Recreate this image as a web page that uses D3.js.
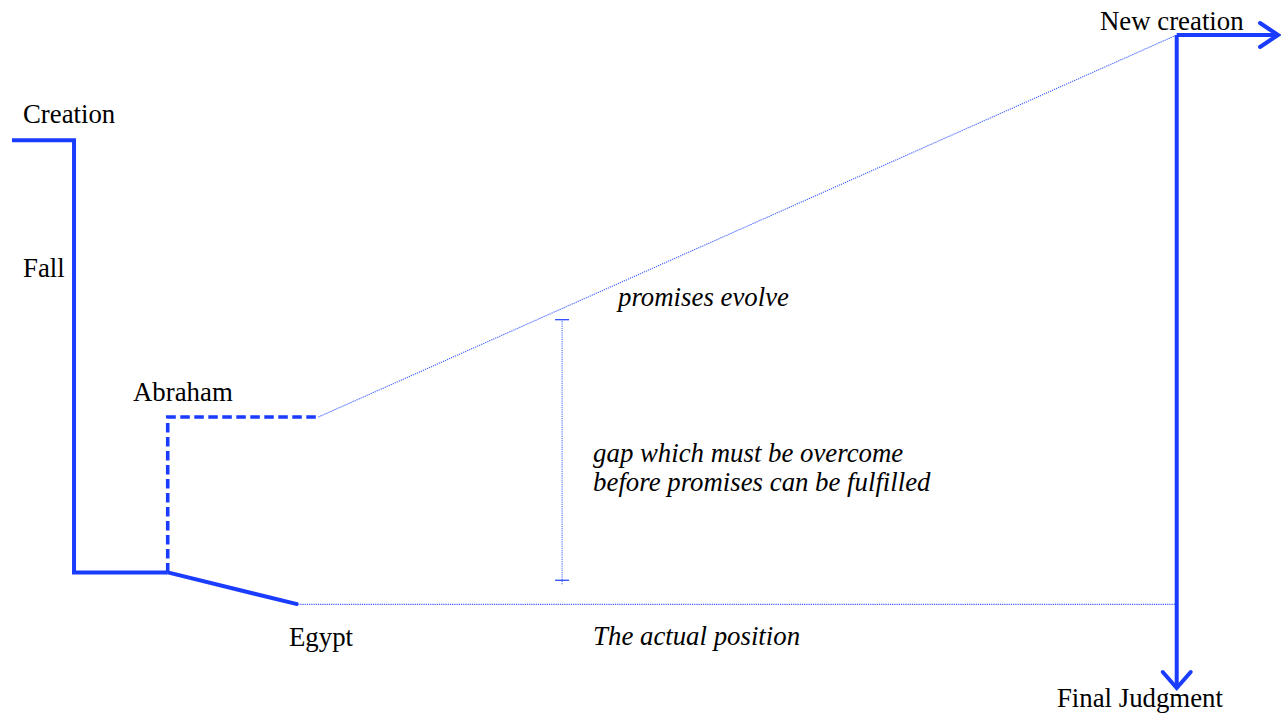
<!DOCTYPE html>
<html>
<head>
<meta charset="utf-8">
<script src="https://cdn.jsdelivr.net/npm/d3@7"></script>
<style>
  html, body { margin: 0; padding: 0; background: #fff; }
  svg { display: block; }
  text { font-family: "Liberation Serif", "Times New Roman", Times, serif; font-size: 26.8px; fill: #000; }
</style>
</head>
<body>
<svg id="chart" width="1281" height="713"></svg>
<script>
// ---- data (abstract units: x = time 0..100, y = level 0..100) ----
const fallPath      = [[0, 83.9], [4.9, 83.9], [4.9, 17.7], [12.3, 17.7]];
const abrahamPath   = [[12.3, 17.7], [12.3, 41.5], [24.2, 41.5]];
const egyptPath     = [[12.3, 17.7], [22.6, 12.8]];
const promisePath   = [[24.2, 41.5], [92.0, 100]];
const actualPath    = [[22.6, 12.8], [92.0, 12.8]];
const judgmentPath  = [[92.0, 100], [92.0, 0]];
const newCreationPath = [[92.0, 100], [100, 100]];
const gapX = 43.45;
const gapRange = [16.5, 56.4];

const labelNames  = ["Creation", "Fall", "Abraham", "Egypt", "New creation", "Final Judgment"];
const labelX      = [0.87, 0.87, 9.56, 21.88, 85.94, 82.54];
const labelY      = [86.5, 63.0, 44.0, 6.4, 100.8, -2.85];

const noteLines   = ["promises evolve", "gap which must be overcome", "before promises can be fulfilled", "The actual position"];
const noteX       = [47.87, 45.9, 45.9, 45.9];
const noteY       = [58.5, 34.6, 30.15, 6.6];

// ---- scales ----
const svg = d3.select("#chart");
const x = d3.scaleLinear().domain([0, 100]).range([12, 1278]);
const y = d3.scaleLinear().domain([0, 100]).range([688, 35]);
const line = d3.line().x(d => x(d[0])).y(d => y(d[1]));

const blue = "#1a3cff";
const dotBlue = "#3a5bff";

// thin dotted lines
svg.append("path").attr("d", line(promisePath))
  .attr("fill", "none").attr("stroke", dotBlue).attr("stroke-width", 1.1)
  .attr("stroke-dasharray", "1.2,1");
svg.append("path").attr("d", line(actualPath))
  .attr("fill", "none").attr("stroke", dotBlue).attr("stroke-width", 1.1)
  .attr("stroke-dasharray", "1.2,1");

// gap bracket
svg.append("line")
  .attr("x1", x(gapX)).attr("x2", x(gapX))
  .attr("y1", y(gapRange[0]) + 4).attr("y2", y(gapRange[1]))
  .attr("stroke", dotBlue).attr("stroke-width", 1).attr("stroke-dasharray", "1.2,1");
gapRange.forEach(v => {
  svg.append("line")
    .attr("x1", x(gapX) - 7).attr("x2", x(gapX) + 7)
    .attr("y1", y(v)).attr("y2", y(v))
    .attr("stroke", blue).attr("stroke-width", 1.2);
});

// solid thick lines
[fallPath, egyptPath, judgmentPath, newCreationPath].forEach(p => {
  svg.append("path").attr("d", line(p))
    .attr("fill", "none").attr("stroke", blue).attr("stroke-width", 4)
    .attr("stroke-linejoin", "miter").attr("stroke-linecap", "butt");
});

// dashed Abraham line
svg.append("path").attr("d", line(abrahamPath))
  .attr("fill", "none").attr("stroke", blue).attr("stroke-width", 3.6)
  .attr("stroke-dasharray", "9.5,4.5").attr("stroke-linejoin", "miter");

// arrowheads
function arrowHead(tip, dx, dy, len, half) {
  const tx = x(tip[0]), ty = y(tip[1]);
  const px = -dy, py = dx;
  const p1 = [tx - dx * len + px * half, ty - dy * len + py * half];
  const p2 = [tx - dx * len - px * half, ty - dy * len - py * half];
  svg.append("path")
    .attr("d", `M${p1[0]},${p1[1]}L${tx},${ty}L${p2[0]},${p2[1]}`)
    .attr("fill", "none").attr("stroke", blue).attr("stroke-width", 4)
    .attr("stroke-linecap", "round").attr("stroke-linejoin", "miter");
}
arrowHead(newCreationPath[1], 1, 0, 18, 12);
arrowHead(judgmentPath[1], 0, 1, 16, 14);

// labels
labelNames.forEach((t, i) => {
  svg.append("text").attr("x", x(labelX[i])).attr("y", y(labelY[i])).text(t);
});
noteLines.forEach((t, i) => {
  svg.append("text").attr("x", x(noteX[i])).attr("y", y(noteY[i]))
    .attr("font-style", "italic").text(t);
});
</script>
</body>
</html>
